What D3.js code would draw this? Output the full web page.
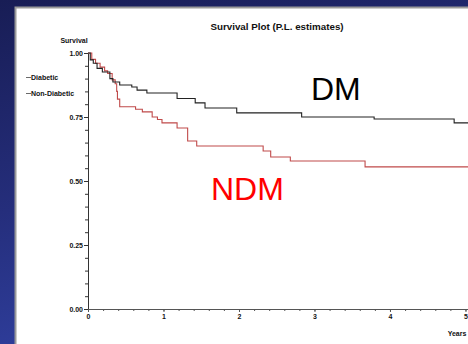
<!DOCTYPE html>
<html>
<head>
<meta charset="utf-8">
<script src="https://cdn.jsdelivr.net/npm/d3@7"></script>
<style>
  html, body { margin: 0; padding: 0; overflow: hidden; }
  svg { display: block; }
  .tick text { font-family: Arial, "Liberation Sans", sans-serif; font-weight: bold; }
</style>
</head>
<body>
<div id="chart"></div>
<script>
// Product-limit estimates (time in years, survival)
const dmTimes = [0, 0.03, 0.07, 0.12, 0.19, 0.29, 0.33, 0.42, 0.58, 0.65, 0.78, 1.18, 1.42, 1.55, 1.97, 2.83, 3.79, 4.85, 5.06];
const dmSurv = [1, 0.973, 0.96, 0.94, 0.926, 0.9, 0.887, 0.875, 0.867, 0.855, 0.844, 0.822, 0.805, 0.785, 0.766, 0.75, 0.742, 0.727, 0.727];

const ndmTimes = [0, 0.05, 0.1, 0.16, 0.22, 0.26, 0.32, 0.36, 0.38, 0.39, 0.42, 0.63, 0.72, 0.85, 0.92, 0.98, 1.18, 1.32, 1.44, 2.32, 2.42, 2.68, 3.67, 5.06];
const ndmSurv = [1, 0.975, 0.96, 0.945, 0.93, 0.92, 0.895, 0.88, 0.85, 0.82, 0.79, 0.78, 0.77, 0.75, 0.74, 0.727, 0.707, 0.656, 0.637, 0.617, 0.594, 0.578, 0.555, 0.555];

const yMajor = [0, 0.25, 0.5, 0.75, 1];
const xMajor = [0, 1, 2, 3, 4, 5];

const W = 468, H = 344;

const svg = d3.select('#chart').append('svg').attr('width', W).attr('height', H);

// slide background
const defs = svg.append('defs');
const grad = defs.append('linearGradient').attr('id', 'bg')
  .attr('x1', '0').attr('y1', '0').attr('x2', '0.35').attr('y2', '1');
grad.append('stop').attr('offset', '0').attr('stop-color', '#181d55');
grad.append('stop').attr('offset', '0.55').attr('stop-color', '#252e7c');
grad.append('stop').attr('offset', '1').attr('stop-color', '#3040a0');
svg.append('rect').attr('width', W).attr('height', H).attr('fill', 'url(#bg)');

// white plot panel
svg.append('rect')
  .attr('x', 15.5).attr('y', 7.5)
  .attr('width', W).attr('height', H)
  .attr('fill', '#ffffff')
  .attr('stroke', '#9a9a9a').attr('stroke-width', 2);

const x = d3.scaleLinear().domain([0, 5.06]).range([88, 470]);
const y = d3.scaleLinear().domain([0, 1]).range([309, 53]);

// y axis
const yAxis = svg.append('g').attr('transform', 'translate(88,0)');
yAxis.call(d3.axisLeft(y).tickValues(d3.range(0, 1.001, 0.05)).tickSize(3).tickFormat(''));
yAxis.append('g').call(d3.axisLeft(y).tickValues(yMajor).tickSize(4).tickFormat(d3.format('.2f')))
  .call(g => g.select('.domain').remove());
yAxis.selectAll('path, line').attr('stroke', '#333').attr('stroke-width', 1);
yAxis.selectAll('text').attr('font-size', 7).attr('fill', '#111').attr('x', -5);

// x axis
const xAxis = svg.append('g').attr('transform', 'translate(0,309)');
xAxis.call(d3.axisBottom(x).tickValues(d3.range(0, 5.001, 0.2)).tickSize(2).tickFormat(''));
xAxis.append('g').call(d3.axisBottom(x).tickValues(xMajor).tickSize(3).tickFormat(d3.format('d')))
  .call(g => g.select('.domain').remove());
xAxis.selectAll('path, line').attr('stroke', '#555').attr('stroke-width', 1);
xAxis.selectAll('text').attr('font-size', 7).attr('fill', '#111').attr('y', 5);

// titles and legend
svg.append('text').attr('x', 277).attr('y', 30)
  .attr('text-anchor', 'middle')
  .attr('font-family', 'Arial, sans-serif').attr('font-weight', 'bold').attr('font-size', 9.8)
  .attr('fill', '#111').text('Survival Plot (P.L. estimates)');

svg.append('text').attr('x', 74).attr('y', 43)
  .attr('text-anchor', 'middle')
  .attr('font-family', 'Arial, sans-serif').attr('font-weight', 'bold').attr('font-size', 7)
  .attr('fill', '#111').text('Survival');

const legend = [
  {label: 'Diabetic', y: 80},
  {label: 'Non-Diabetic', y: 96}
];
legend.forEach(d => {
  svg.append('line').attr('x1', 26).attr('x2', 31).attr('y1', d.y - 2.5).attr('y2', d.y - 2.5)
    .attr('stroke', '#444').attr('stroke-width', 0.8);
  svg.append('text').attr('x', 31).attr('y', d.y)
    .attr('font-family', 'Arial, sans-serif').attr('font-weight', 'bold').attr('font-size', 7)
    .attr('fill', '#111').text(d.label);
});

svg.append('text').attr('x', 457).attr('y', 336)
  .attr('text-anchor', 'middle')
  .attr('font-family', 'Arial, sans-serif').attr('font-weight', 'bold').attr('font-size', 7)
  .attr('fill', '#111').text('Years');

// survival curves
const line = d3.line().curve(d3.curveStepAfter)
  .x(d => x(d[0]))
  .y(d => y(d[1]));

svg.append('path')
  .datum(d3.zip(ndmTimes, ndmSurv))
  .attr('fill', 'none').attr('stroke', '#c04a4a').attr('stroke-width', 1.1)
  .attr('d', line);

svg.append('path')
  .datum(d3.zip(dmTimes, dmSurv))
  .attr('fill', 'none').attr('stroke', '#222').attr('stroke-width', 1.1)
  .attr('d', line);

// group labels
svg.append('text').attr('x', 311).attr('y', 100)
  .attr('font-family', 'Arial, "Liberation Sans", sans-serif').attr('font-size', 32)
  .attr('fill', '#000').text('DM');
svg.append('text').attr('x', 211).attr('y', 200)
  .attr('font-family', 'Arial, "Liberation Sans", sans-serif').attr('font-size', 32)
  .attr('fill', '#ff0000').text('NDM');
</script>
</body>
</html>
